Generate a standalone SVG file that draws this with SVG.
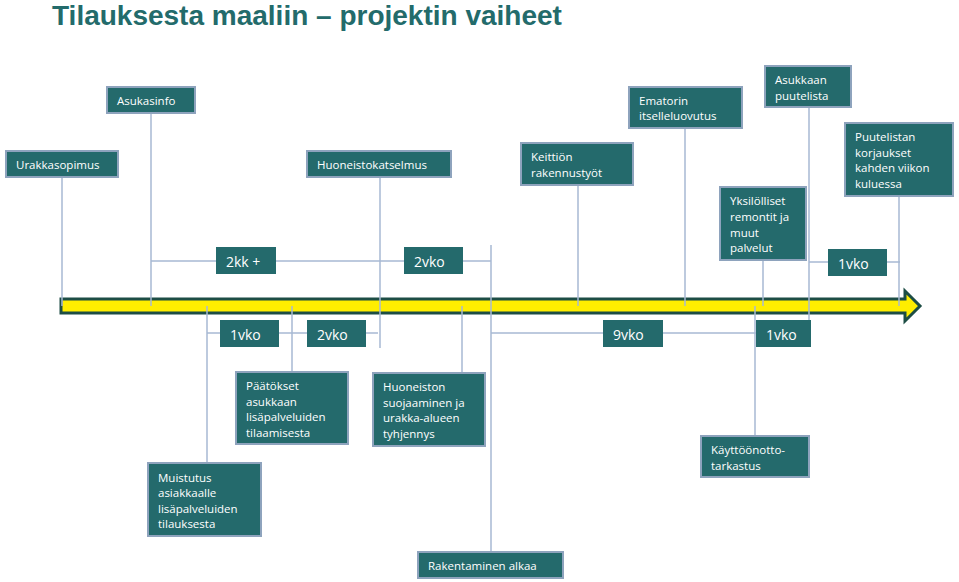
<svg xmlns="http://www.w3.org/2000/svg" width="959" height="582" viewBox="0 0 959 582">
<style>
.b{fill:#246a6c;stroke:#8ea3bd;stroke-width:2}
.d{fill:#246a6c}
.t{font-family:"Open Sans","Noto Sans",sans-serif;font-size:11.5px;fill:#fff}
.w{font-family:"Open Sans","Noto Sans",sans-serif;font-size:14px;fill:#fff}
.c line{stroke:#a7b9d3;stroke-width:1.5}
</style>
<rect width="959" height="582" fill="#fff"/>
<text x="52" y="25" font-family="Liberation Sans,Arial,sans-serif" font-weight="bold" font-size="28" fill="#236b6b">Tilauksesta maaliin – projektin vaiheet</text>
<g id="timeline">
<polygon points="61,299 905,299 905,291 920,306 905,321 905,313 61,313" fill="#ffee00" stroke="#1d4d45" stroke-width="3"/>
</g>
<g class="c" id="connectors">
<line x1="62" y1="177" x2="62" y2="306"/>
<line x1="151" y1="113" x2="151" y2="306"/>
<line x1="151" y1="261" x2="491" y2="261"/>
<line x1="491" y1="245" x2="491" y2="552"/>
<line x1="380" y1="177" x2="380" y2="348"/>
<line x1="578" y1="185" x2="578" y2="306"/>
<line x1="685" y1="128" x2="685" y2="306"/>
<line x1="809" y1="107" x2="809" y2="320"/>
<line x1="809" y1="262" x2="900" y2="262"/>
<line x1="899" y1="196" x2="899" y2="306"/>
<line x1="763" y1="260" x2="763" y2="306"/>
<line x1="207" y1="333" x2="378" y2="333"/>
<line x1="207" y1="306" x2="207" y2="463"/>
<line x1="292" y1="306" x2="292" y2="372"/>
<line x1="462" y1="306" x2="462" y2="373"/>
<line x1="491" y1="333" x2="756" y2="333"/>
<line x1="755" y1="306" x2="755" y2="436"/>
</g>
<g id="urakkasopimus"><rect class="b" x="6" y="151" width="112" height="26"/><text class="t" x="16" y="169">Urakkasopimus</text></g>
<g id="asukasinfo"><rect class="b" x="107" y="87" width="88" height="26"/><text class="t" x="117" y="105">Asukasinfo</text></g>
<g id="huoneistokatselmus"><rect class="b" x="307" y="151" width="144" height="26"/><text class="t" x="317" y="169">Huoneistokatselmus</text></g>
<g id="keittio"><rect class="b" x="521" y="143" width="112" height="42"/><text class="t" x="531" y="161">Keittiön</text><text class="t" x="531" y="177">rakennustyöt</text></g>
<g id="ematorin"><rect class="b" x="629" y="87" width="113" height="41"/><text class="t" x="639" y="105">Ematorin</text><text class="t" x="639" y="120">itselleluovutus</text></g>
<g id="puutelista"><rect class="b" x="765" y="66" width="86" height="41"/><text class="t" x="775" y="84">Asukkaan</text><text class="t" x="775" y="100">puutelista</text></g>
<g id="puutelistan"><rect class="b" x="845" y="123" width="108" height="73"/><text class="t" x="855" y="141">Puutelistan</text><text class="t" x="855" y="157">korjaukset</text><text class="t" x="855" y="172">kahden viikon</text><text class="t" x="855" y="188">kuluessa</text></g>
<g id="yksilolliset"><rect class="b" x="720" y="187" width="86" height="73"/><text class="t" x="730" y="205">Yksilölliset</text><text class="t" x="730" y="221">remontit ja</text><text class="t" x="730" y="237">muut</text><text class="t" x="730" y="252">palvelut</text></g>
<g id="d2kk"><rect class="d" x="216" y="247" width="60" height="27"/><text class="w" x="226" y="267">2kk +</text></g>
<g id="d2vko"><rect class="d" x="404" y="247" width="59" height="27"/><text class="w" x="414" y="267">2vko</text></g>
<g id="d1vkoTop"><rect class="d" x="828" y="249" width="59" height="27"/><text class="w" x="838" y="269">1vko</text></g>
<g id="d1vkoA"><rect class="d" x="220" y="320" width="59" height="27"/><text class="w" x="230" y="340">1vko</text></g>
<g id="d2vkoB"><rect class="d" x="307" y="320" width="59" height="27"/><text class="w" x="317" y="340">2vko</text></g>
<g id="d9vko"><rect class="d" x="603" y="320" width="60" height="27"/><text class="w" x="613" y="340">9vko</text></g>
<g id="d1vkoB"><rect class="d" x="756" y="320" width="55" height="27"/><text class="w" x="766" y="340">1vko</text></g>
<g id="paatokset"><rect class="b" x="236" y="372" width="112" height="72"/><text class="t" x="246" y="390">Päätökset</text><text class="t" x="246" y="406">asukkaan</text><text class="t" x="246" y="421">lisäpalveluiden</text><text class="t" x="246" y="437">tilaamisesta</text></g>
<g id="huoneiston"><rect class="b" x="373" y="373" width="112" height="73"/><text class="t" x="383" y="391">Huoneiston</text><text class="t" x="383" y="407">suojaaminen ja</text><text class="t" x="383" y="422">urakka-alueen</text><text class="t" x="383" y="438">tyhjennys</text></g>
<g id="muistutus"><rect class="b" x="148" y="463" width="113" height="73"/><text class="t" x="158" y="482">Muistutus</text><text class="t" x="158" y="497">asiakkaalle</text><text class="t" x="158" y="513">lisäpalveluiden</text><text class="t" x="158" y="528">tilauksesta</text></g>
<g id="kayttoonotto"><rect class="b" x="701" y="436" width="108" height="41"/><text class="t" x="711" y="454">Käyttöönotto-</text><text class="t" x="711" y="470">tarkastus</text></g>
<g id="rakentaminen"><rect class="b" x="418" y="552" width="145" height="26"/><text class="t" x="428" y="570">Rakentaminen alkaa</text></g>
</svg>
